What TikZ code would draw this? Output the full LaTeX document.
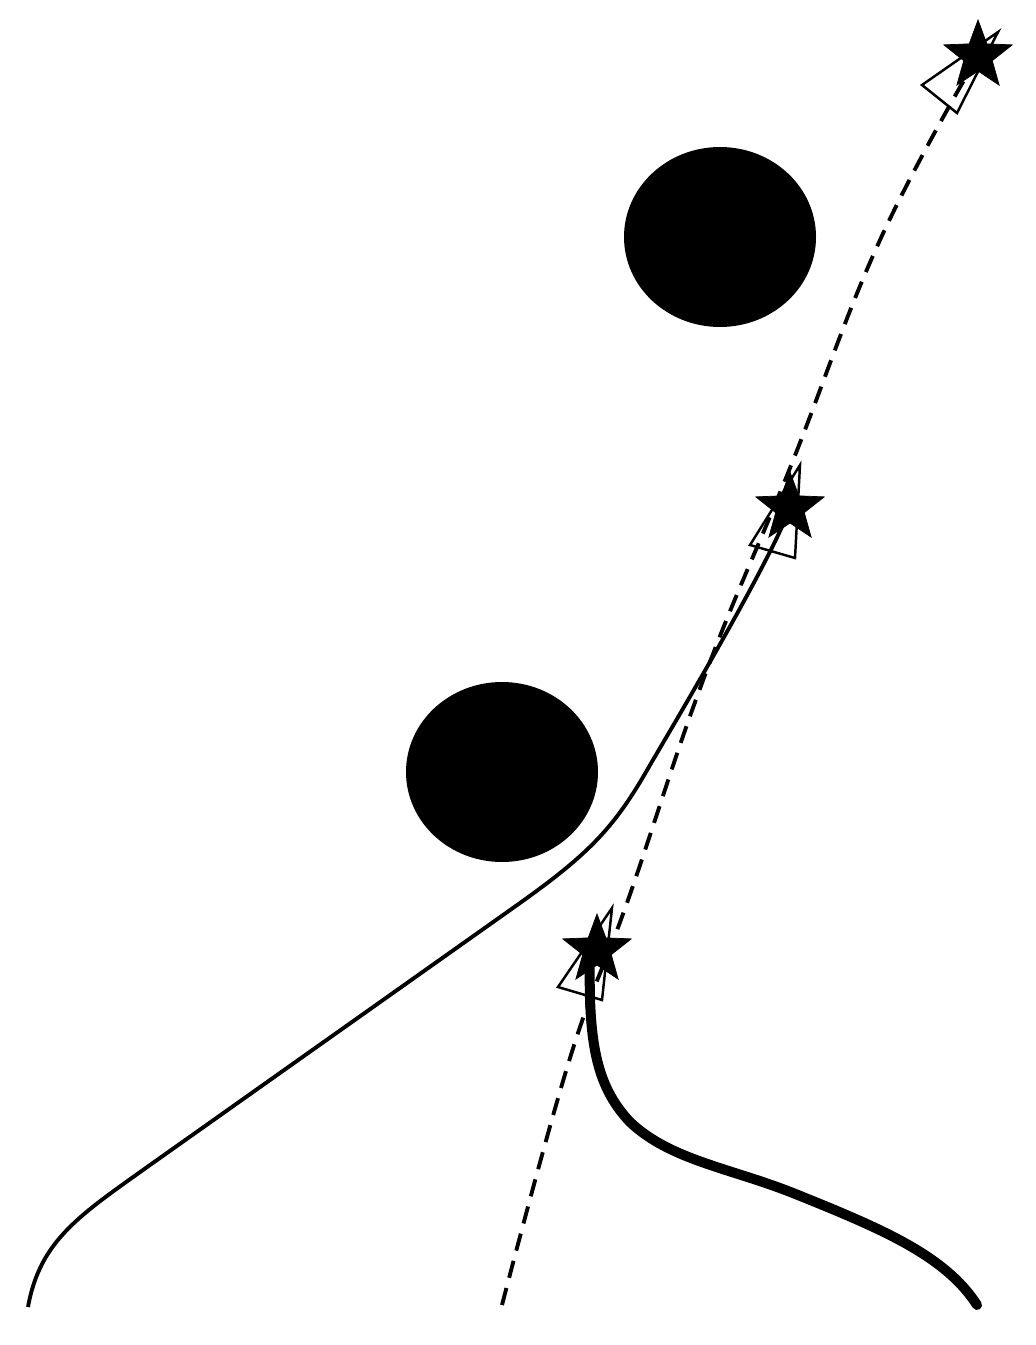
\documentclass[tikz,border=0pt]{standalone}
\usetikzlibrary{shapes.geometric}
\tikzset{
  goal/.style={star,star points=5,star point ratio=2.4,fill=black,draw=black,inner sep=0pt,minimum size=72*0.02cm},
  pose/.style={draw=black,line width=1.4pt,fill=none,line join=miter},
  path/.style={line width=2.2pt}
}
\begin{document}
\begin{tikzpicture}[x=0.02cm,y=-0.02cm]
                \useasboundingbox (0,0) rectangle (1035,1345);
                %obstaculos
                \fill (720,237) ellipse (96 and 90);
                \fill (502,772) ellipse (96 and 90);
                %trayectorias
                \coordinate (S1) at (28,1307);
                \coordinate (S2) at (502,1305);
                \coordinate (S3) at (977,1305);
                \coordinate (G1) at (790,508);
                \coordinate (G2) at (978,56);
                \coordinate (G3) at (590,950);
                \draw[path] (S1) .. controls (40,1240) and (80,1215) .. (150,1165) -- (520,903)
                    .. controls (590,853) and (615,827) .. (650,765)
                    .. controls (700,680) and (770,560) .. (G1);
                \draw[path,dash pattern=on 10pt off 6pt] plot[smooth,tension=0.7] coordinates {(S2) (570,1058) (628,900) (705,675) (790,468) (880,240) (G2)};
                \draw[path,line width=5.7pt,line cap=round] (S3) .. controls (945,1255) and (880,1228) .. (793,1193)
                    .. controls (730,1168) and (670,1160) .. (630,1122)
                    .. controls (595,1085) and (588,1040) .. (G3);
                %poses
                \draw[pose] (922,85) -- (957,113) -- (998,32) -- cycle;
                \draw[pose] (750,545) -- (795,558) -- (800,465) -- cycle;
                \draw[pose] (558,987) -- (602,1000) -- (612,908) -- cycle;
                \node[goal] (g2) at (G2) {};
                \node[goal] (g1) at (G1) {};
                \node[goal] (g3) at (597,950) {};
\end{tikzpicture}
\end{document}
